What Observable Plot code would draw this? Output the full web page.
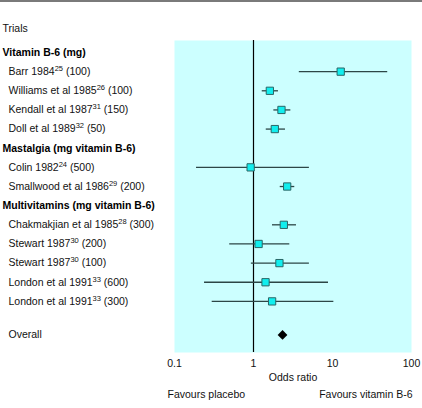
<!DOCTYPE html>
<html>
<head>
<meta charset="utf-8">
<script src="https://cdn.jsdelivr.net/npm/d3@7"></script>
<script src="https://cdn.jsdelivr.net/npm/@observablehq/plot@0.6"></script>
<style>
  html, body { margin: 0; padding: 0; background: #fff; }
  #wrap { position: relative; width: 422px; height: 408px; }
  #rule { position: absolute; left: 0; top: 0; width: 422px; height: 2px; background: #7a7a7a; }
</style>
</head>
<body>
<div id="wrap"><div id="rule"></div></div>
<script>
// ---- data ----
const groupNames = ["Vitamin B-6 (mg)", "Mastalgia (mg vitamin B-6)", "Multivitamins (mg vitamin B-6)"];
const trialGroup = [0, 0, 0, 0, 1, 1, 2, 2, 2, 2, 2];
const trialNames = ["Barr 1984", "Williams et al 1985", "Kendall et al 1987", "Doll et al 1989",
  "Colin 1982", "Smallwood et al 1986", "Chakmakjian et al 1985", "Stewart 1987", "Stewart 1987",
  "London et al 1991", "London et al 1991"];
const trialRefs = ["25", "26", "31", "32", "24", "29", "28", "30", "30", "33", "33"];
const trialDoses = ["100", "100", "150", "50", "500", "200", "300", "200", "100", "600", "300"];
const oddsRatio = [12.7, 1.61, 2.26, 1.86, 0.92, 2.67, 2.42, 1.16, 2.13, 1.42, 1.72];
const ciLow = [3.8, 1.29, 1.81, 1.45, 0.19, 2.18, 1.74, 0.50, 0.94, 0.24, 0.30];
const ciHigh = [50, 2.07, 2.97, 2.54, 5.1, 3.33, 3.5, 2.88, 5.1, 8.9, 10.4];
const overallLabel = "Overall";
const overallOR = 2.33;
const xTicks = [0.1, 1, 10, 100];
const titleText = "Trials";
const axisLabel = "Odds ratio";
const leftNote = "Favours placebo";
const rightNote = "Favours vitamin B-6";

// ---- build rows ----
const headers = [];
const trials = [];
let slot = 0;
groupNames.forEach((g, gi) => {
  headers.push({slot: slot++, label: g});
  trialNames.forEach((n, i) => {
    if (trialGroup[i] !== gi) return;
    trials.push({
      slot: slot++, name: n, ref: trialRefs[i], dose: trialDoses[i],
      label: n + trialRefs[i] + " (" + trialDoses[i] + ")",
      or: oddsRatio[i], lo: ciLow[i], hi: ciHigh[i]
    });
  });
});
const overall = [{slot: slot + 0.75, label: overallLabel, or: overallOR}];
const labelParts = new Map(trials.map(d => [d.label, d]));

const font = "'Liberation Sans', Arial, Helvetica, sans-serif";

const chart = Plot.plot({
  width: 422,
  height: 408,
  marginTop: 40,
  marginBottom: 56,
  marginLeft: 174,
  marginRight: 11,
  style: {fontFamily: font, fontSize: "10.5px", color: "#111", background: "transparent", overflow: "visible"},
  x: {type: "log", domain: [0.1, 100], ticks: xTicks, tickFormat: d => String(d), tickSize: 0, tickPadding: 7.5, label: null},
  y: {type: "linear", domain: [0, overall[0].slot], range: [52, 334.4], axis: null},
  marks: [
    Plot.frame({fill: "#ccffff", stroke: null}),
    Plot.ruleX([1], {stroke: "#000", strokeWidth: 1.2}),
    Plot.ruleY(trials, {y: "slot", x1: "lo", x2: "hi", stroke: "#2c4646", strokeWidth: 1.3}),
    Plot.dot(trials, {x: "or", y: "slot", symbol: "square", r: 4.1, fill: "#11eeee", stroke: "#2a6666", strokeWidth: 1}),
    Plot.dot(overall, {x: "or", y: "slot", symbol: "diamond2", r: 4.4, fill: "#000", stroke: null}),
    Plot.text(headers, {y: "slot", text: "label", frameAnchor: "left", textAnchor: "start", dx: -172, fontWeight: "bold", fill: "#000"}),
    Plot.text(trials, {y: "slot", text: "label", frameAnchor: "left", textAnchor: "start", dx: -166, fill: "#111"}),
    Plot.text(overall, {y: "slot", text: "label", frameAnchor: "left", textAnchor: "start", dx: -166, fill: "#111"}),
    Plot.text([titleText], {frameAnchor: "top-left", textAnchor: "start", dx: -172, dy: -16, fill: "#111"}),
    Plot.text([axisLabel], {frameAnchor: "bottom", dy: 28.5, fill: "#111"}),
    Plot.text([leftNote], {frameAnchor: "bottom-left", textAnchor: "start", dx: -7, dy: 45.5, fill: "#111"}),
    Plot.text([rightNote], {frameAnchor: "bottom-right", textAnchor: "end", dx: 1, dy: 45.5, fill: "#111"})
  ]
});

// superscript reference numbers
d3.select(chart).selectAll("text").each(function () {
  const d = labelParts.get(this.textContent);
  if (!d) return;
  const t = d3.select(this);
  t.text(null);
  t.append("tspan").text(d.name);
  t.append("tspan").attr("dy", "-4").attr("font-size", "7.5px").text(d.ref);
  t.append("tspan").attr("dy", "4").text(" (" + d.dose + ")");
});

document.getElementById("wrap").appendChild(chart);
chart.style.position = "absolute";
chart.style.left = "0";
chart.style.top = "0";
</script>
</body>
</html>
